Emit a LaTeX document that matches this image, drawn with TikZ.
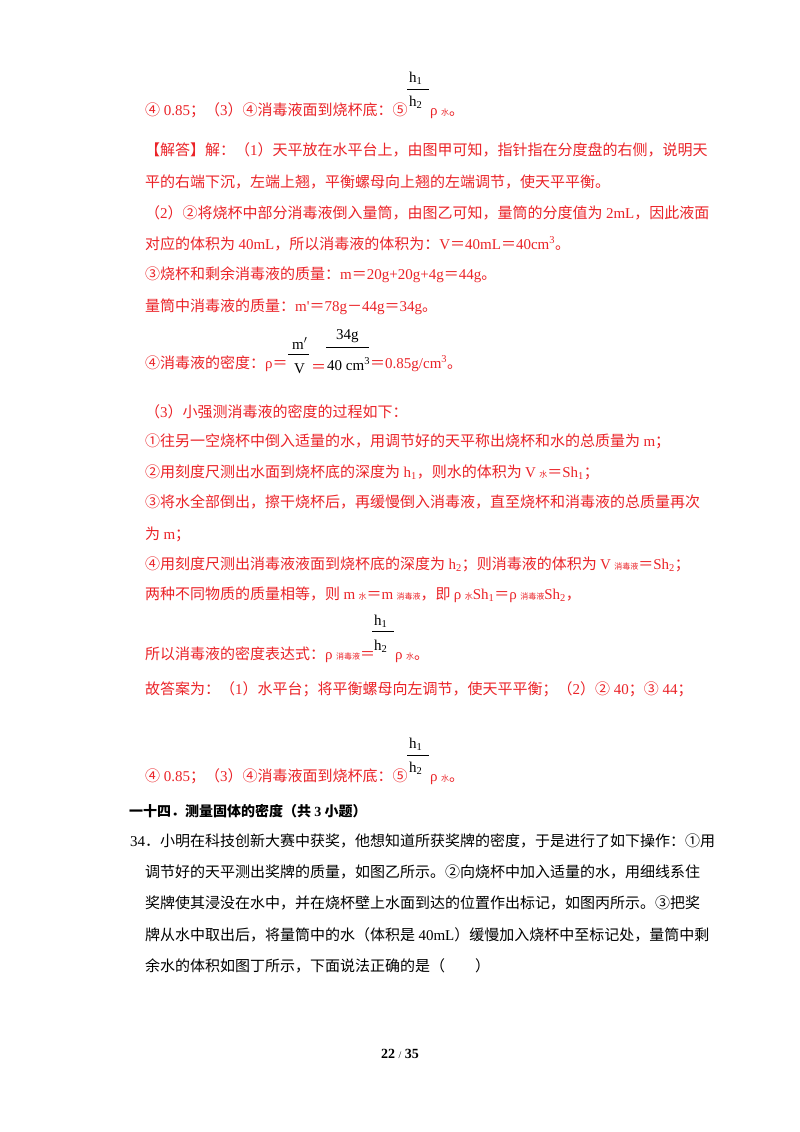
\documentclass[tikz,border=0pt]{standalone}
\usepackage{fontspec}
\setmainfont{Noto Sans CJK SC}
\newfontfamily\lat{Liberation Serif}
\definecolor{ans}{RGB}{235,35,40}
\newcommand\E[1]{{\lat #1}}
\newcommand\eq{{\normalfont ＝}}
\newcommand\mi{{\normalfont －}}
\newcommand\sm[1]{{\fontsize{8}{9}\selectfont #1}}
\begin{document}
\begin{tikzpicture}[x=1pt,y=-1pt,
  ln/.style={anchor=base west,inner sep=0,font=\fontsize{15}{18}\selectfont},
  rl/.style={ln,text=ans},
  fr/.style={anchor=base west,inner sep=0,font=\lat\fontsize{15}{18}\selectfont}]
\useasboundingbox (0,0) rectangle (800,1132);
\fill[white] (0,0) rectangle (800,1132);
\node[rl] (a1) at (145,115) {④\E{ 0.85}；（\E{3}）④消毒液面到烧杯底：⑤};
\node[fr] (f1n) at (409,82) {h\textsubscript{1}};
\draw (407,89) coordinate (f1a) -- (429,89) coordinate (f1b);
\node[fr] (f1d) at (409,106) {h\textsubscript{2}};
\node[rl] (f1r) at (430,115) {\E{ρ} \sm{水}。};
\node[rl] (b1) at (145,155) {【解答】解：（\E{1}）天平放在水平台上，由图甲可知，指针指在分度盘的右侧，说明天};
\node[rl] (b2) at (145,187) {平的右端下沉，左端上翘，平衡螺母向上翘的左端调节，使天平平衡。};
\node[rl] (b3) at (145,218) {（\E{2}）②将烧杯中部分消毒液倒入量筒，由图乙可知，量筒的分度值为 \E{2mL}，因此液面};
\node[rl] (b4) at (145,249) {对应的体积为 \E{40mL}，所以消毒液的体积为：\E{V\eq 40mL\eq 40cm\textsuperscript{3}}。};
\node[rl] (b5) at (145,279) {③烧杯和剩余消毒液的质量：\E{m\eq 20g+20g+4g\eq 44g}。};
\node[rl] (b6) at (145,311) {量筒中消毒液的质量：\E{m'\eq 78g\mi 44g\eq 34g}。};
\node[rl] (b7) at (145,368) {④消毒液的密度：\E{ρ\eq}};
\node[fr] (f2n) at (292,349) {m$'$};
\draw (288,354) coordinate (f2a) -- (309,354) coordinate (f2b);
\node[fr] (f2d) at (294,373) {V};
\node[rl] (f2e) at (311,372) {\eq};
\node[fr] (f3n) at (336,339) {34g};
\draw (326,347) coordinate (f3a) -- (369,347) coordinate (f3b);
\node[fr] (f3d) at (327,370) {40 cm\textsuperscript{3}};
\node[rl] (f3r) at (370,368) {\E{\eq 0.85g/cm\textsuperscript{3}}。};
\node[rl] (c1) at (145,417) {（\E{3}）小强测消毒液的密度的过程如下：};
\node[rl] (c2) at (145,446) {①往另一空烧杯中倒入适量的水，用调节好的天平称出烧杯和水的总质量为 \E{m}；};
\node[rl] (c3) at (145,477) {②用刻度尺测出水面到烧杯底的深度为 \E{h\textsubscript{1}}，则水的体积为 \E{V} \sm{水}\E{\eq Sh\textsubscript{1}}；};
\node[rl] (c4) at (145,507) {③将水全部倒出，擦干烧杯后，再缓慢倒入消毒液，直至烧杯和消毒液的总质量再次};
\node[rl] (c5) at (145,539) {为 \E{m}；};
\node[rl] (c6) at (145,569) {④用刻度尺测出消毒液液面到烧杯底的深度为 \E{h\textsubscript{2}}；则消毒液的体积为 \E{V} \sm{消毒液}\E{\eq Sh\textsubscript{2}}；};
\node[rl] (c7) at (145,599) {两种不同物质的质量相等，则 \E{m} \sm{水}\E{\eq m} \sm{消毒液}，即 \E{ρ} \sm{水}\E{Sh\textsubscript{1}\eq ρ} \sm{消毒液}\E{Sh\textsubscript{2}}，};
\node[rl] (c8) at (145,659) {所以消毒液的密度表达式：\E{ρ} \sm{消毒液}\eq};
\node[fr] (f4n) at (374,625) {h\textsubscript{1}};
\draw (372,631) coordinate (f4a) -- (394,631) coordinate (f4b);
\node[fr] (f4d) at (374,650) {h\textsubscript{2}};
\node[rl] (f4r) at (395,659) {\E{ρ} \sm{水}。};
\node[rl] (c9) at (145,694) {故答案为：（\E{1}）水平台；将平衡螺母向左调节，使天平平衡；（\E{2}）②\E{ 40}；③\E{ 44}；};
\node[rl] (d1) at (145,781) {④\E{ 0.85}；（\E{3}）④消毒液面到烧杯底：⑤};
\node[fr] (f5n) at (409,748) {h\textsubscript{1}};
\draw (407,755) coordinate (f5a) -- (429,755) coordinate (f5b);
\node[fr] (f5d) at (409,772) {h\textsubscript{2}};
\node[rl] (f5r) at (430,781) {\E{ρ} \sm{水}。};
\node[ln,font=\bfseries\fontsize{14}{17}\selectfont] (h) at (129,816) {一十四．测量固体的密度（共 \E{\bfseries 3} 小题）};
\node[ln] (q1) at (130,846) {\E{34}．小明在科技创新大赛中获奖，他想知道所获奖牌的密度，于是进行了如下操作：①用};
\node[ln] (q2) at (145,877) {调节好的天平测出奖牌的质量，如图乙所示。②向烧杯中加入适量的水，用细线系住};
\node[ln] (q3) at (145,908) {奖牌使其浸没在水中，并在烧杯壁上水面到达的位置作出标记，如图丙所示。③把奖};
\node[ln] (q4) at (145,940) {牌从水中取出后，将量筒中的水（体积是 \E{40mL}）缓慢加入烧杯中至标记处，量筒中剩};
\node[ln] (q5) at (145,971) {余水的体积如图丁所示，下面说法正确的是（\hspace{30pt}）};
\node[anchor=base,inner sep=0,font=\lat\bfseries\fontsize{14}{17}\selectfont] (pg) at (400,1058) {22 {\mdseries\fontsize{10}{12}\selectfont /} 35};
\end{tikzpicture}
\end{document}
